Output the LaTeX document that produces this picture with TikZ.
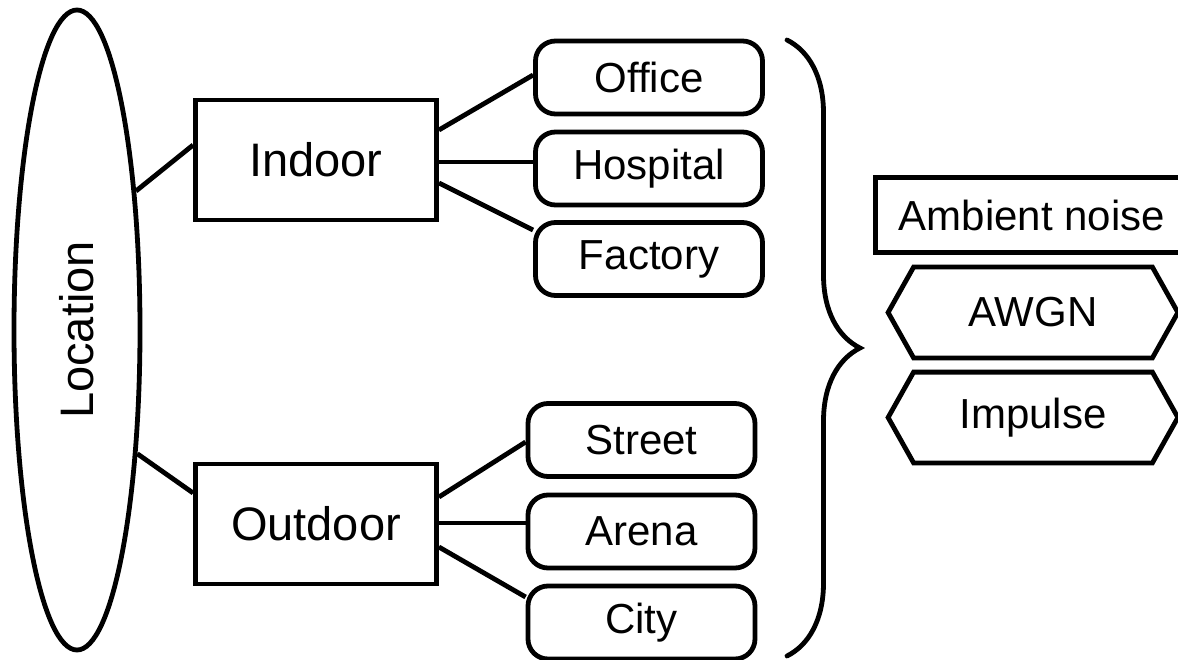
\documentclass[tikz,border=0pt]{standalone}
\usepackage{fontspec}
\setmainfont{Liberation Sans}
\usetikzlibrary{shapes.geometric,decorations.pathreplacing}
\begin{document}
\begin{tikzpicture}[x=1pt,y=-1pt,
  line width=4.8pt,
  big/.style={font=\fontsize{47}{56}\selectfont},
  small/.style={font=\fontsize{42}{50}\selectfont},
  catbox/.style={draw, rectangle, minimum width=241pt, minimum height=120pt, inner sep=0pt, big},
  placebox/.style={draw, rectangle, rounded corners=20pt, minimum width=227pt, minimum height=73pt, inner sep=0pt, small},
  hexlabel/.style={inner sep=0pt, minimum width=285pt, minimum height=86pt, small},
  plainbox/.style={draw, rectangle, minimum width=313pt, minimum height=75pt, inner sep=0pt, small},
  hexborder/.style={line width=4.8pt},
]
\useasboundingbox (0,0) rectangle (1178,660);
% location ellipse
\node[draw, ellipse, minimum width=126pt, minimum height=640pt, inner sep=0pt] (loc) at (77,330) {};
\node[big, rotate=90, inner sep=0pt] (loclabel) at (77,330) {Location};
% categories
\node[catbox] (indoor) at (316,160) {Indoor};
\node[catbox] (outdoor) at (316,524) {Outdoor};
% places
\node[placebox] (office) at (649,77.5) {Office};
\node[placebox] (hospital) at (649,168.5) {Hospital};
\node[placebox] (factory) at (649,259) {Factory};
\node[placebox] (street) at (641.5,440) {Street};
\node[placebox] (arena) at (641.5,531.5) {Arena};
\node[placebox] (city) at (641.5,622.5) {City};
% connectors
\draw (loc.67) -- ([yshift=15pt]indoor.west);
\draw (loc.-64) -- ([yshift=31pt]outdoor.west);
\draw ([yshift=30pt]indoor.east) -- ([yshift=2.5pt]office.west);
\draw ([yshift=-2pt]indoor.east) -- ([yshift=6.5pt]hospital.west);
\draw ([yshift=-23pt]indoor.east) -- ([yshift=29pt]factory.west);
\draw ([yshift=27pt]outdoor.east) -- ([yshift=-2pt]street.west);
\draw ([yshift=1pt]outdoor.east) -- ([yshift=8.5pt]arena.west);
\draw ([yshift=-23pt]outdoor.east) -- ([yshift=25.5pt]city.west);
% brace
\coordinate (bracetop) at (787,40);
\coordinate (bracebot) at (787,656);
\draw[decorate, decoration={brace, amplitude=73pt}, line cap=round] (bracetop) -- (bracebot);
% noise types
\node[plainbox] (ambient) at (1032,215) {Ambient noise};
\node[hexlabel] (awgn) at (1033,312.5) {AWGN};
\draw[hexborder] (awgn.west) -- ([xshift=25.5pt]awgn.north west) -- ([xshift=-25.5pt]awgn.north east) -- (awgn.east) -- ([xshift=-25.5pt]awgn.south east) -- ([xshift=25.5pt]awgn.south west) -- cycle;
\node[hexlabel] (impulse) at (1033,417.5) {Impulse};
\draw[hexborder] (impulse.west) -- ([xshift=25.5pt]impulse.north west) -- ([xshift=-25.5pt]impulse.north east) -- (impulse.east) -- ([xshift=-25.5pt]impulse.south east) -- ([xshift=25.5pt]impulse.south west) -- cycle;
\end{tikzpicture}
\end{document}
